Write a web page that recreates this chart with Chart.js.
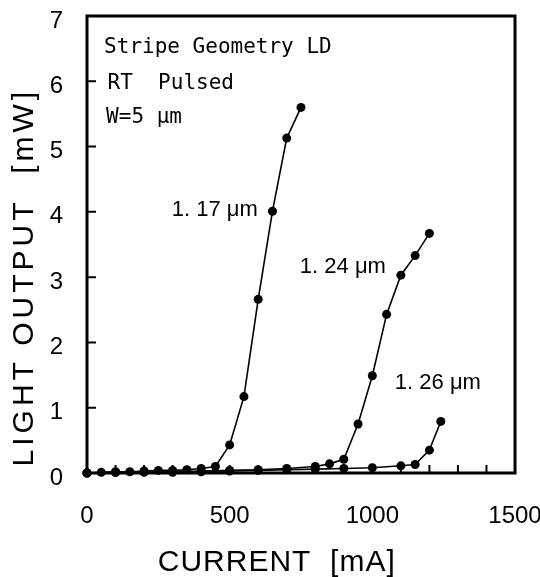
<!DOCTYPE html>
<html>
<head>
<meta charset="utf-8">
<script src="https://cdn.jsdelivr.net/npm/chart.js@4/dist/chart.umd.min.js"></script>
<style>
  html, body { margin: 0; padding: 0; background: #fff; }
  #contenedor { width: 540px; height: 577px; }
</style>
</head>
<body>
<div id="contenedor"><canvas id="grafico-ld"></canvas></div>
<script>
// corriente [mA] y potencia [mW]
const corriente117 = [0, 50, 100, 150, 200, 250, 300, 350, 400, 450, 500, 550, 600, 650, 700, 750];
const potencia117 = [0, 0.01, 0.02, 0.02, 0.03, 0.04, 0.04, 0.05, 0.07, 0.1, 0.43, 1.17, 2.66, 4.01, 5.13, 5.6];

const corriente124 = [0, 100, 200, 300, 400, 500, 600, 700, 800, 850, 900, 950, 1000, 1050, 1100, 1150, 1200];
const potencia124 = [0, 0.01, 0.02, 0.02, 0.03, 0.04, 0.05, 0.07, 0.1, 0.14, 0.21, 0.75, 1.49, 2.43, 3.03, 3.33, 3.67];

const corriente126 = [0, 100, 200, 300, 400, 500, 600, 700, 800, 900, 1000, 1100, 1150, 1200, 1240];
const potencia126 = [0, 0.01, 0.01, 0.01, 0.02, 0.03, 0.04, 0.05, 0.06, 0.07, 0.08, 0.11, 0.13, 0.35, 0.79];

const ticksX = [0, 500, 1000, 1500];
const ticksY = [0, 1, 2, 3, 4, 5, 6, 7];

const etiquetasCurvas = ["1. 17 μm", "1. 24 μm", "1. 26 μm"];
const lineasCabecera = ["Stripe Geometry LD", "RT  Pulsed", "W=5 μm"];

function puntos(xs, ys) {
  return xs.map((x, i) => ({ x: x, y: ys[i] }));
}

function serie(etiqueta, xs, ys) {
  return {
    label: etiqueta,
    data: puntos(xs, ys),
    showLine: true,
    borderColor: "#000",
    borderWidth: 1.6,
    pointRadius: 4.5,
    pointBackgroundColor: "#000",
    pointBorderWidth: 0,
    tension: 0,
    clip: false,
  };
}

// sin relleno extra de Chart.js alrededor del area
function sinRelleno(s) {
  s.paddingLeft = 0;
  s.paddingRight = 0;
  s.paddingTop = 0;
  s.paddingBottom = 0;
}

const fuenteSans = "'Liberation Sans', Arial, sans-serif";

const marcoYTextos = {
  id: "marcoYTextos",
  beforeDatasetsDraw(chart) {
    const { ctx, chartArea: a, scales } = chart;
    ctx.save();
    ctx.strokeStyle = "#000";
    ctx.lineWidth = 3;
    ctx.strokeRect(a.left, a.top, a.right - a.left, a.bottom - a.top);
    // marcas hacia adentro
    ctx.lineWidth = 2;
    ctx.beginPath();
    for (let v = 100; v < 1500; v += 100) {
      const px = scales.x.getPixelForValue(v);
      ctx.moveTo(px, a.bottom);
      ctx.lineTo(px, a.bottom - 8);
    }
    for (let v = 1; v < 7; v++) {
      const py = scales.y.getPixelForValue(v);
      ctx.moveTo(a.left, py);
      ctx.lineTo(a.left + 9, py);
    }
    ctx.stroke();
    ctx.restore();
  },
  afterDraw(chart) {
    const { ctx, scales } = chart;
    const sx = (v) => scales.x.getPixelForValue(v);
    const sy = (v) => scales.y.getPixelForValue(v);
    ctx.save();
    ctx.fillStyle = "#000";
    ctx.textBaseline = "middle";
    ctx.textAlign = "left";

    ctx.font = "21px 'DejaVu Sans Mono', monospace";
    const yCab = [6.52, 5.97, 5.45];
    const xCab = [60, 72, 67];
    lineasCabecera.forEach((t, i) => ctx.fillText(t, sx(xCab[i]), sy(yCab[i])));

    ctx.font = "22px " + fuenteSans;
    const posEtiquetas = [[297, 4.03], [746, 3.16], [1079, 1.38]];
    etiquetasCurvas.forEach((t, i) => ctx.fillText(t, sx(posEtiquetas[i][0]), sy(posEtiquetas[i][1])));

    // titulos de ejes
    ctx.font = "30px " + fuenteSans;
    ctx.letterSpacing = "1px";
    ctx.textAlign = "center";
    ctx.fillText("CURRENT  [mA]", sx(665), chart.height - 14);

    ctx.letterSpacing = "4px";
    ctx.translate(25, sy(3.0));
    ctx.rotate(-Math.PI / 2);
    ctx.fillText("LIGHT OUTPUT  [mW]", 0, 0);
    ctx.restore();
  },
};

new Chart(document.getElementById("grafico-ld").getContext("2d"), {
  type: "scatter",
  data: {
    datasets: [
      serie("1.17", corriente117, potencia117),
      serie("1.24", corriente124, potencia124),
      serie("1.26", corriente126, potencia126),
    ],
  },
  options: {
    responsive: true,
    maintainAspectRatio: false,
    animation: false,
    events: [],
    layout: { padding: { top: 16, right: 25, left: 0, bottom: 0 } },
    plugins: { legend: { display: false }, tooltip: { enabled: false } },
    scales: {
      x: {
        type: "linear",
        min: 0,
        max: 1500,
        afterBuildTicks: (s) => { s.ticks = ticksX.map((v) => ({ value: v })); },
        afterFit: (s) => { s.height = 104; sinRelleno(s); },
        grid: { display: false, drawTicks: false },
        border: { display: false },
        ticks: {
          color: "#000",
          padding: 29,
          font: { family: fuenteSans, size: 24 },
          callback: (v) => String(v),
        },
      },
      y: {
        min: 0,
        max: 7,
        afterBuildTicks: (s) => { s.ticks = ticksY.map((v) => ({ value: v })); },
        afterFit: (s) => { s.width = 87; sinRelleno(s); },
        grid: { display: false, drawTicks: false },
        border: { display: false },
        ticks: {
          color: "#000",
          padding: 24,
          labelOffset: 5,
          font: { family: fuenteSans, size: 24 },
          callback: (v) => String(v),
        },
      },
    },
  },
  plugins: [marcoYTextos],
});
</script>
</body>
</html>
